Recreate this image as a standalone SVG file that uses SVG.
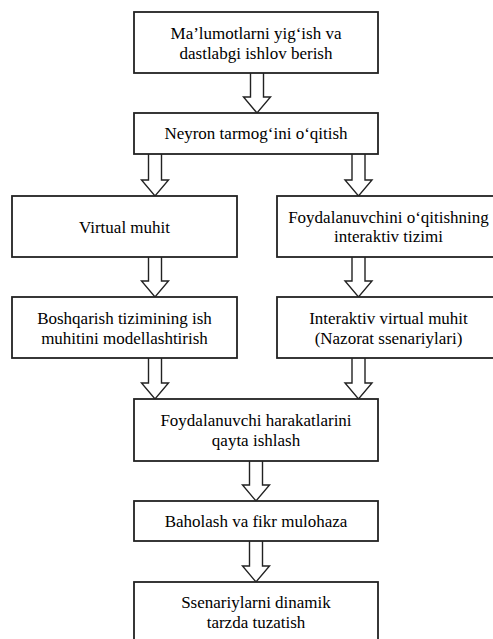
<svg xmlns="http://www.w3.org/2000/svg" width="493" height="639" viewBox="0 0 493 639">
<style>
.box{fill:#fff;stroke:#222;stroke-width:1.8}
.arr{fill:#fff;stroke:#222;stroke-width:1.4;stroke-linejoin:miter}
</style>
<rect width="493" height="639" fill="#fff"/>
<g id="connectors">
<path class="arr" d="M250.5,73 V97 H243.5 L257,113 L270.5,97 H263.5 V73"/>
<path class="arr" d="M148.5,154 V180 H141.5 L155,196 L168.5,180 H161.5 V154"/>
<path class="arr" d="M352,154 V180 H345 L358.5,196 L372,180 H365 V154"/>
<path class="arr" d="M148.5,257 V281 H141.5 L155,297 L168.5,281 H161.5 V257"/>
<path class="arr" d="M352,257 V281 H345 L358.5,297 L372,281 H365 V257"/>
<path class="arr" d="M148.5,358 V383 H141.5 L155,399 L168.5,383 H161.5 V358"/>
<path class="arr" d="M352,358 V383 H345 L358.5,399 L372,383 H365 V358"/>
<path class="arr" d="M249.5,461 V485 H242.5 L256,501 L269.5,485 H262.5 V461"/>
<path class="arr" d="M249.5,541 V566 H242.5 L256,582 L269.5,566 H262.5 V541"/>
</g>
<g id="n1"><rect class="box" x="134" y="12" width="244" height="61"/><text style="font-family:'Liberation Serif',Tinos,'DejaVu Serif',serif;font-size:17px;text-anchor:middle" x="256" y="38.5">Ma’lumotlarni yig‘ish va</text><text style="font-family:'Liberation Serif',Tinos,'DejaVu Serif',serif;font-size:17px;text-anchor:middle" x="256" y="58.5">dastlabgi ishlov berish</text></g>
<g id="n2"><rect class="box" x="134" y="113" width="244" height="41"/><text style="font-family:'Liberation Serif',Tinos,'DejaVu Serif',serif;font-size:17px;text-anchor:middle" x="256" y="139">Neyron tarmog‘ini o‘qitish</text></g>
<g id="n3"><rect class="box" x="12" y="196" width="225" height="61"/><text style="font-family:'Liberation Serif',Tinos,'DejaVu Serif',serif;font-size:17px;text-anchor:middle" x="124.5" y="233">Virtual muhit</text></g>
<g id="n4"><rect class="box" x="277" y="196" width="225" height="61"/><text style="font-family:'Liberation Serif',Tinos,'DejaVu Serif',serif;font-size:17px;text-anchor:middle" x="388.5" y="222.5">Foydalanuvchini o‘qitishning</text><text style="font-family:'Liberation Serif',Tinos,'DejaVu Serif',serif;font-size:17px;text-anchor:middle" x="388.5" y="242">interaktiv tizimi</text></g>
<g id="n5"><rect class="box" x="12" y="297" width="225" height="61"/><text style="font-family:'Liberation Serif',Tinos,'DejaVu Serif',serif;font-size:17px;text-anchor:middle" x="124.5" y="323.5">Boshqarish tizimining ish</text><text style="font-family:'Liberation Serif',Tinos,'DejaVu Serif',serif;font-size:17px;text-anchor:middle" x="124.5" y="343.5">muhitini modellashtirish</text></g>
<g id="n6"><rect class="box" x="277" y="297" width="225" height="61"/><text style="font-family:'Liberation Serif',Tinos,'DejaVu Serif',serif;font-size:17px;text-anchor:middle" x="388.5" y="323.5">Interaktiv virtual muhit</text><text style="font-family:'Liberation Serif',Tinos,'DejaVu Serif',serif;font-size:17px;text-anchor:middle" x="388.5" y="343.5">(Nazorat ssenariylari)</text></g>
<g id="n7"><rect class="box" x="134" y="399" width="244" height="62"/><text style="font-family:'Liberation Serif',Tinos,'DejaVu Serif',serif;font-size:17px;text-anchor:middle" x="256" y="426">Foydalanuvchi harakatlarini</text><text style="font-family:'Liberation Serif',Tinos,'DejaVu Serif',serif;font-size:17px;text-anchor:middle" x="256" y="446">qayta ishlash</text></g>
<g id="n8"><rect class="box" x="134" y="501" width="244" height="40"/><text style="font-family:'Liberation Serif',Tinos,'DejaVu Serif',serif;font-size:17px;text-anchor:middle" x="256" y="527">Baholash va fikr mulohaza</text></g>
<g id="n9"><rect class="box" x="134" y="582" width="244" height="64"/><text style="font-family:'Liberation Serif',Tinos,'DejaVu Serif',serif;font-size:17px;text-anchor:middle" x="256" y="608">Ssenariylarni dinamik</text><text style="font-family:'Liberation Serif',Tinos,'DejaVu Serif',serif;font-size:17px;text-anchor:middle" x="256" y="628">tarzda tuzatish</text></g>
</svg>
